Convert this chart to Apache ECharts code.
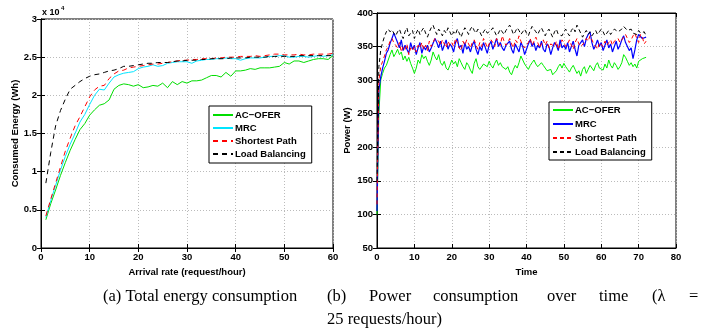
<!DOCTYPE html>
<html><head><meta charset="utf-8">
<script src="https://cdn.jsdelivr.net/npm/echarts@6/dist/echarts.min.js"></script>
<style>html,body{margin:0;padding:0;background:#fff}#c{width:705px;height:333px}</style>
</head><body><div id="c"></div>
<script>
// ---- Panel (a): total energy (units of 10^4 Wh) vs arrival rate ----
const arrivalRates = [1,2,3,4,5,6,7,8,9,10,11,12,13,14,15,16,17,18,19,20,21,22,23,24,25,26,27,28,29,30,31,32,33,34,35,36,37,38,39,40,41,42,43,44,45,46,47,48,49,50,51,52,53,54,55,56,57,58,59,60];
const energyACOFER = [0.37,0.58,0.76,0.95,1.12,1.28,1.42,1.55,1.63,1.74,
  1.81,1.87,1.89,1.94,2.08,2.13,2.15,2.14,2.12,2.14,
  2.10,2.11,2.13,2.12,2.16,2.10,2.18,2.14,2.18,2.16,
  2.19,2.19,2.20,2.23,2.26,2.26,2.24,2.30,2.25,2.32,
  2.32,2.33,2.35,2.34,2.36,2.36,2.36,2.37,2.38,2.43,
  2.41,2.45,2.45,2.43,2.45,2.47,2.48,2.48,2.47,2.52];
const energyMRC = [0.40,0.62,0.82,1.02,1.20,1.36,1.50,1.65,1.75,1.88,
  2.00,2.08,2.07,2.16,2.24,2.27,2.29,2.30,2.31,2.35,
  2.37,2.38,2.40,2.38,2.39,2.42,2.43,2.44,2.44,2.44,
  2.42,2.45,2.46,2.47,2.47,2.48,2.48,2.49,2.48,2.48,
  2.46,2.48,2.49,2.49,2.49,2.50,2.51,2.51,2.52,2.52,
  2.50,2.50,2.51,2.51,2.50,2.51,2.52,2.51,2.52,2.53];
const energySP = [0.42,0.64,0.85,1.06,1.27,1.44,1.60,1.72,1.85,1.98,
  2.07,2.12,2.13,2.22,2.28,2.32,2.33,2.36,2.37,2.38,
  2.39,2.40,2.41,2.41,2.42,2.43,2.44,2.45,2.46,2.46,
  2.47,2.47,2.48,2.48,2.48,2.49,2.49,2.50,2.50,2.50,
  2.51,2.51,2.51,2.52,2.51,2.52,2.53,2.54,2.54,2.53,
  2.53,2.53,2.54,2.53,2.53,2.54,2.54,2.54,2.54,2.55];
const energyLB = [0.85,1.25,1.60,1.80,1.95,2.08,2.13,2.18,2.22,2.25,
  2.27,2.28,2.30,2.32,2.33,2.35,2.38,2.38,2.39,2.40,
  2.41,2.42,2.42,2.43,2.43,2.43,2.44,2.45,2.45,2.46,
  2.46,2.46,2.47,2.47,2.48,2.48,2.48,2.48,2.49,2.49,
  2.49,2.49,2.50,2.50,2.50,2.50,2.51,2.51,2.51,2.51,
  2.51,2.51,2.52,2.52,2.52,2.52,2.52,2.52,2.52,2.52];

// ---- Panel (b): power (W) over time, sampled every 0.5 h from 0 to 72 ----
const timeStep = 0.5;
const powerACOFER = [100,250,300,310,318,322,330,338,345,335,
  340,346,338,342,330,336,328,334,325,318,
  310,318,330,325,338,332,336,328,322,330,
  342,335,330,338,326,322,328,318,315,322,
  330,324,328,320,332,326,320,316,326,322,
  315,310,325,332,320,316,318,324,326,320,
  328,322,318,325,330,322,326,320,322,316,
  320,312,308,316,322,318,326,336,330,324,
  320,316,322,326,330,324,320,318,326,322,
  318,314,312,316,308,306,314,320,324,318,
  325,320,316,312,318,322,316,310,314,306,
  316,320,310,316,322,318,314,322,326,318,
  320,315,324,318,330,322,318,326,322,316,
  320,326,338,334,328,322,326,320,324,318,
  328,326,332,330,334];
const powerMRC = [105,285,305,318,328,340,345,355,362,370,
  368,356,348,360,344,352,350,340,356,346,
  352,338,348,356,340,350,345,352,342,348,
  350,362,356,348,358,344,352,360,346,354,
  350,342,356,362,348,352,340,356,346,350,
  342,352,358,346,338,350,344,356,348,340,
  352,358,346,354,362,350,356,348,344,352,
  350,358,346,340,354,348,342,356,350,338,
  346,354,360,350,356,344,352,348,358,346,
  342,354,350,338,348,356,352,344,360,348,
  352,346,356,342,350,358,346,336,352,356,
  360,350,362,368,372,356,346,352,360,350,
  356,344,352,360,348,354,342,350,358,346,
  352,360,366,356,350,344,348,332,345,360,
  368,365,362,360,364];
const powerSP = [115,300,320,328,336,345,350,358,362,356,
  352,348,356,342,350,346,354,338,348,344,
  350,342,352,348,356,346,352,344,358,350,
  356,362,364,358,352,360,354,348,358,352,
  356,350,362,356,348,344,358,352,360,354,
  348,356,360,352,346,356,350,362,356,348,
  354,360,356,350,362,356,352,366,358,352,
  356,362,354,348,360,356,366,358,352,348,
  350,356,362,352,358,364,356,348,354,360,
  352,358,348,354,356,350,358,346,352,360,
  356,350,354,360,352,346,356,362,354,350,
  348,356,362,358,366,360,354,350,346,356,
  354,350,358,352,356,360,352,358,356,362,
  356,360,364,368,362,356,360,366,370,362,
  356,368,364,354,358];
const powerLB = [150,320,345,356,365,372,376,372,375,370,
  366,372,376,368,362,372,378,366,370,374,
  362,370,376,368,374,378,370,364,372,378,
  382,374,368,376,372,366,374,370,378,372,
  366,372,368,376,370,364,372,378,374,368,
  376,380,374,370,376,372,366,372,376,370,
  368,374,378,372,366,370,376,372,368,374,
  378,382,376,368,372,378,374,368,372,376,
  370,366,374,380,376,372,368,374,378,372,
  366,372,376,370,364,372,376,368,370,366,
  372,376,370,366,374,378,372,382,376,370,
  364,370,374,368,372,366,370,374,368,372,
  376,372,366,370,374,368,372,376,378,372,
  370,376,380,378,374,372,376,370,372,368,
  374,370,368,372,366];

const leftYTicks = ['0','0.5','1','1.5','2','2.5','3'];

const pairsA = vals => vals.map((v, i) => [arrivalRates[i], v]);
const pairsB = vals => vals.map((v, i) => [i * timeStep, v]);

const FONT = 'Liberation Sans, Arial, sans-serif';
const lblStyle = {color:'#000', fontSize:9.5, fontWeight:'bold', fontFamily:FONT};
const splitDot = {show:true, lineStyle:{color:'#bbb', type:[1,2], width:1}};
const axisLine = {show:true, lineStyle:{color:'#000', width:1}};
const tickIn = {show:true, inside:true, length:4, lineStyle:{color:'#000'}};

function mainX(grid, min, max, name, gap){
  return {type:'value', gridIndex:grid, min, max, interval:10, position:'bottom',
    name, nameLocation:'middle', nameGap:gap, nameTextStyle:lblStyle,
    axisLine, axisTick:tickIn, axisLabel:Object.assign({margin:4}, lblStyle), splitLine:splitDot};
}
function twinX(grid, min, max){
  return {type:'value', gridIndex:grid, min, max, interval:10, position:'top',
    axisLine, axisTick:tickIn, axisLabel:{show:false}, splitLine:{show:false}};
}
function mainY(grid, min, max, interval, name, gap, fmt){
  return {type:'value', gridIndex:grid, min, max, interval, position:'left',
    name, nameLocation:'middle', nameGap:gap, nameTextStyle:lblStyle,
    axisLine, axisTick:tickIn, axisLabel:Object.assign({margin:4, formatter:fmt}, lblStyle), splitLine:splitDot};
}
function twinY(grid, min, max, interval){
  return {type:'value', gridIndex:grid, min, max, interval, position:'right',
    axisLine, axisTick:tickIn, axisLabel:{show:false}, splitLine:{show:false}};
}
function line(name, xi, yi, data, color, type, width){
  return {type:'line', name, xAxisIndex:xi, yAxisIndex:yi, data, symbol:'none', showSymbol:false,
    animation:false, lineStyle:{color, width:width||1, type:type||'solid'}, itemStyle:{color}, z:3};
}

const SUF = ' (b)';
const legendCommon = {orient:'vertical', itemWidth:20, itemHeight:10, borderColor:'#000', borderWidth:1,
  backgroundColor:'#fff', itemStyle:{opacity:0}, selectedMode:false,
  textStyle:Object.assign({}, lblStyle, {padding:[0,0,0,-3]})};
const option = {
  animation:false,
  grid:[
    {left:41, top:19, width:292, height:229, show:true, borderColor:'#000', borderWidth:1, backgroundColor:'#fff'},
    {left:377, top:13, width:299, height:235, show:true, borderColor:'#000', borderWidth:1, backgroundColor:'#fff'}
  ],
  xAxis:[ mainX(0,0,60,'Arrival rate (request/hour)',15), mainX(1,0,80,'Time',16), twinX(0,0,60), twinX(1,0,80) ],
  yAxis:[
    mainY(0,0,3,0.5,'Consumed Energy (Wh)',18, (v)=>leftYTicks[Math.round(v*2)]),
    mainY(1,50,400,50,'Power (W)',25),
    twinY(0,0,3,0.5), twinY(1,50,400,50)
  ],
  legend:[
    Object.assign({left:209, top:106, itemGap:3, padding:[4,6,4,3],
     data:['AC\u2212OFER','MRC','Shortest Path','Load Balancing']}, legendCommon),
    Object.assign({left:549, top:102, itemGap:4, padding:[3,6,3,3],
     formatter:(n)=>n.replace(SUF,''),
     data:['AC\u2212OFER'+SUF,'MRC'+SUF,'Shortest Path'+SUF,'Load Balancing'+SUF]}, legendCommon)
  ],
  series:[
    line('AC\u2212OFER',0,0,pairsA(energyACOFER),'#00dd00'),
    line('MRC',0,0,pairsA(energyMRC),'#00e5ff'),
    line('Shortest Path',0,0,pairsA(energySP),'#ff0000',[5,4]),
    line('Load Balancing',0,0,pairsA(energyLB),'#000000',[5,4]),
    line('AC\u2212OFER'+SUF,1,1,pairsB(powerACOFER),'#00ee00'),
    line('MRC'+SUF,1,1,pairsB(powerMRC),'#0000ff',null,1.2),
    line('Shortest Path'+SUF,1,1,pairsB(powerSP),'#ff0000',[4,3]),
    line('Load Balancing'+SUF,1,1,pairsB(powerLB),'#000000',[4,3])
  ],
  graphic:[
    {type:'text', left:42, top:8, style:{text:'x 10', font:'bold 9px '+FONT, fill:'#000'}},
    {type:'text', left:61, top:5, style:{text:'4', font:'bold 6px '+FONT, fill:'#000'}},
    {type:'text', left:103, top:288, style:{text:'(a) Total energy consumption', font:'16.5px "Liberation Serif", "Times New Roman", serif', fill:'#000'}},
    {type:'text', left:327, top:288, style:{text:'(b)', font:'16.5px "Liberation Serif", serif', fill:'#000'}},
    {type:'text', left:369, top:288, style:{text:'Power', font:'16.5px "Liberation Serif", serif', fill:'#000'}},
    {type:'text', left:433, top:288, style:{text:'consumption', font:'16.5px "Liberation Serif", serif', fill:'#000'}},
    {type:'text', left:547, top:288, style:{text:'over', font:'16.5px "Liberation Serif", serif', fill:'#000'}},
    {type:'text', left:599, top:288, style:{text:'time', font:'16.5px "Liberation Serif", serif', fill:'#000'}},
    {type:'text', left:652, top:288, style:{text:'(\u03bb', font:'16.5px "Liberation Serif", serif', fill:'#000'}},
    {type:'text', left:689, top:288, style:{text:'=', font:'16.5px "Liberation Serif", serif', fill:'#000'}},
    {type:'text', left:327, top:311, style:{text:'25 requests/hour)', font:'16.5px "Liberation Serif", serif', fill:'#000'}}
  ]
};
const chart = echarts.init(document.getElementById('c'), null, {renderer:'canvas'});
chart.setOption(option);
</script></body></html>
